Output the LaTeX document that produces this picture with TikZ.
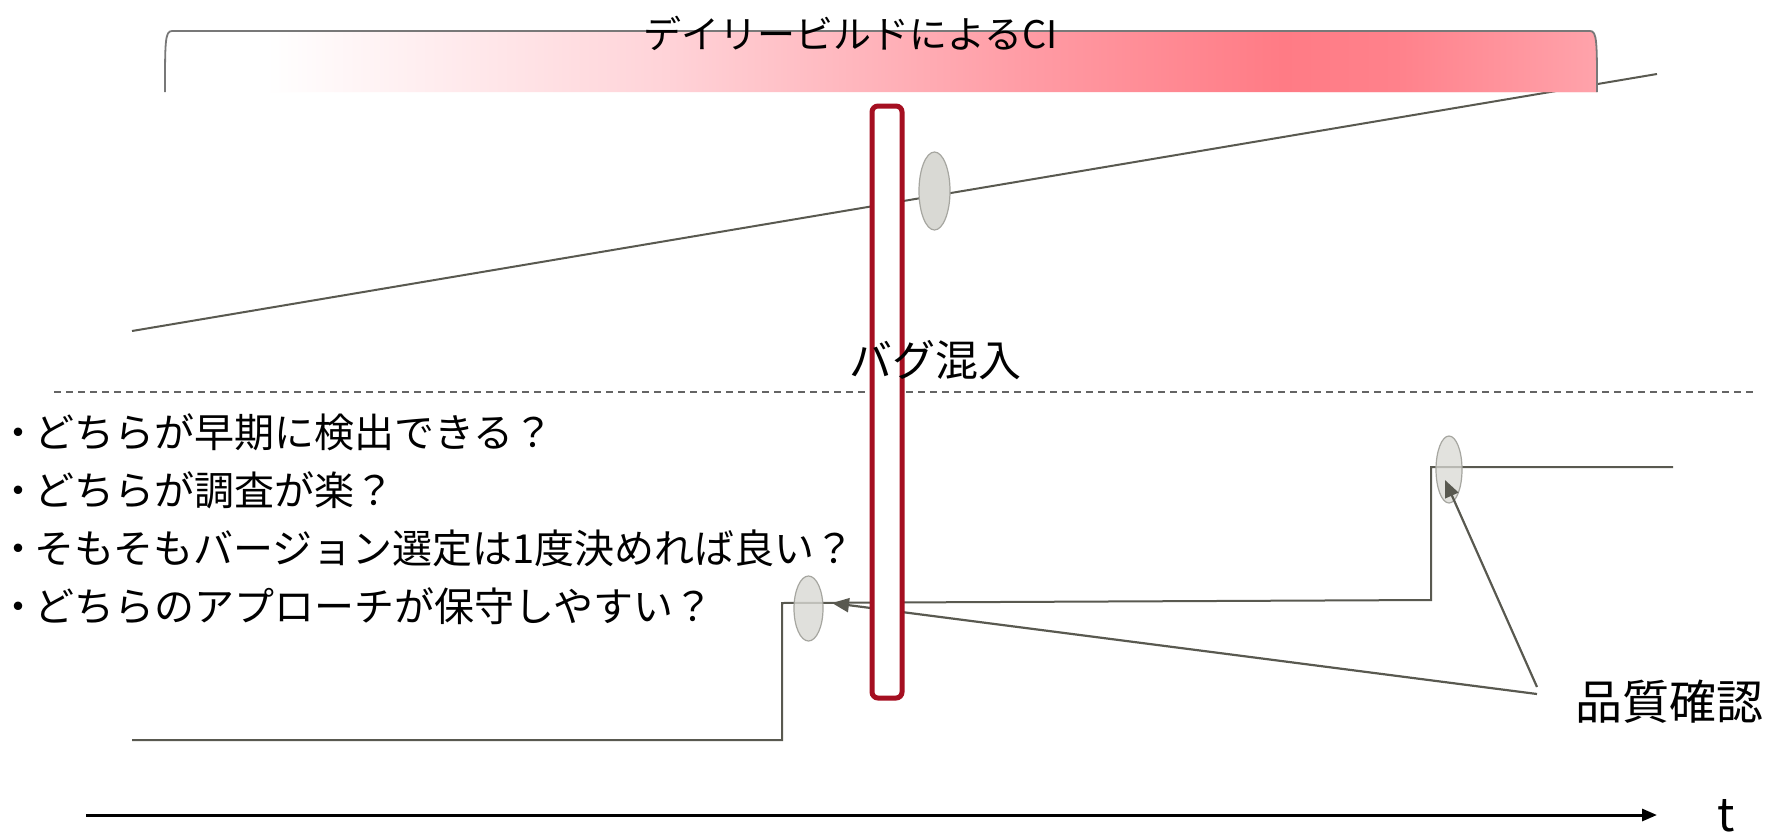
\documentclass[tikz,border=0pt]{standalone}
\usepackage{fontspec}
\setmainfont{Noto Sans CJK JP}
\usetikzlibrary{arrows.meta,shapes.geometric}
\definecolor{lineg}{RGB}{89,89,80}
\definecolor{ellf}{RGB}{217,217,212}
\definecolor{ellb}{RGB}{166,166,160}
\definecolor{bugred}{RGB}{165,15,33}
\definecolor{barline}{RGB}{120,120,120}
\definecolor{dashg}{RGB}{100,100,100}
\definecolor{barA}{RGB}{255,211,216}
\definecolor{barB}{RGB}{255,156,165}
\definecolor{barC}{RGB}{255,123,133}
\definecolor{barD}{RGB}{255,129,139}
\definecolor{barE}{RGB}{255,163,171}
\pgfdeclarehorizontalshading{cibar}{100bp}{color(0bp)=(white); color(28.5bp)=(white); color(42.5bp)=(barA); color(55bp)=(barB); color(64bp)=(barC); color(68bp)=(barD); color(75bp)=(barE); color(100bp)=(barE)}
\newcommand{\qbul}{\makebox[32pt]{・}}
\begin{document}
\begin{tikzpicture}[x=1pt,y=-1pt,
  gline/.style={draw=lineg, line width=2pt},
  garrow/.style={draw=lineg, line width=2.2pt, -{Triangle[length=17pt,width=14pt]}},
  bubble/.style={ellipse, draw=ellb, fill=ellf, line width=1.2pt, inner sep=0pt},
  bugbox/.style={draw=bugred, fill=white, line width=5pt, rounded corners=6pt, inner sep=0pt},
  qtext/.style={anchor=west, inner sep=0pt, font=\fontsize{40}{48}\selectfont},
  dashline/.style={draw=dashg, line width=1.2pt, dash pattern=on 7pt off 5pt},
  axisline/.style={draw=black, line width=3pt, -{Triangle[length=15pt,width=12pt]}}]
\useasboundingbox (0,0) rectangle (1779,835);
\fill[white] (0,0) rectangle (1779,835);

% upper (daily build) line
\draw[gline] (132,331) -- (1657,74);

% gradient bar
\fill[barE] (1300,92) -- (1300,31) -- (1590,31) .. controls (1597,31) and (1597,42) .. (1597,92) -- cycle;
\shade[shading=cibar] (165,92) .. controls (165,42) and (165,31) .. (172,31) -- (1590,31) .. controls (1597,31) and (1597,42) .. (1597,92) -- cycle;
\draw[draw=barline, line width=1.8pt] (165,92) .. controls (165,42) and (165,31) .. (172,31) -- (1590,31) .. controls (1597,31) and (1597,42) .. (1597,92);
\node[inner sep=0pt, font=\fontsize{38}{45}\selectfont] (title) at (851,33) {デイリービルドによるCI};

% dashed separator
\draw[dashline] (54,392) -- (1756,392);

% lower (staircase) line
\draw[gline] (132,740) -- (782,740) -- (782,603) -- (1431,600) -- (1431,467) -- (1673,467);

% ellipses
\node[bubble, minimum width=31, minimum height=78] (e1) at (934.5,191) {};
\node[bubble, fill opacity=0.8, minimum width=29, minimum height=65] (e2) at (808.5,608.5) {};
\node[bubble, fill opacity=0.75, minimum width=26, minimum height=67] (e3) at (1449,469.5) {};

% quality check label and arrows
\node[inner sep=0pt, font=\fontsize{47}{56}\selectfont] (qc) at (1669.5,702) {品質確認};
\coordinate (a1) at (1537,687);
\coordinate (a2) at (1537,694);
\coordinate (t3) at (1445,480);
\coordinate (t2) at (832,603);
\draw[garrow] (a1) -- (t3);
\draw[garrow] (a2) -- (t2);

% bug injection box
\node[bugbox, minimum width=30, minimum height=592] (bug) at (887,402) {};
\node[inner sep=0pt, font=\fontsize{43}{50}\selectfont] (buglbl) at (935,360) {バグ混入};

% questions
\node[qtext] (q1) at (2,432) {\qbul どちらが早期に検出できる？};
\node[qtext] (q2) at (2,490) {\qbul どちらが調査が楽？};
\node[qtext] (q3) at (2,548) {\qbul そもそもバージョン選定は1度決めれば良い？};
\node[qtext] (q4) at (2,606) {\qbul どちらのアプローチが保守しやすい？};

% time axis
\coordinate (ax0) at (86,815);
\coordinate (ax1) at (1657,815);
\draw[axisline] (ax0) -- (ax1);
\node[anchor=base, inner sep=0pt, font=\fontsize{46}{54}\selectfont] (tlbl) at (1726,831) {t};
\end{tikzpicture}
\end{document}
